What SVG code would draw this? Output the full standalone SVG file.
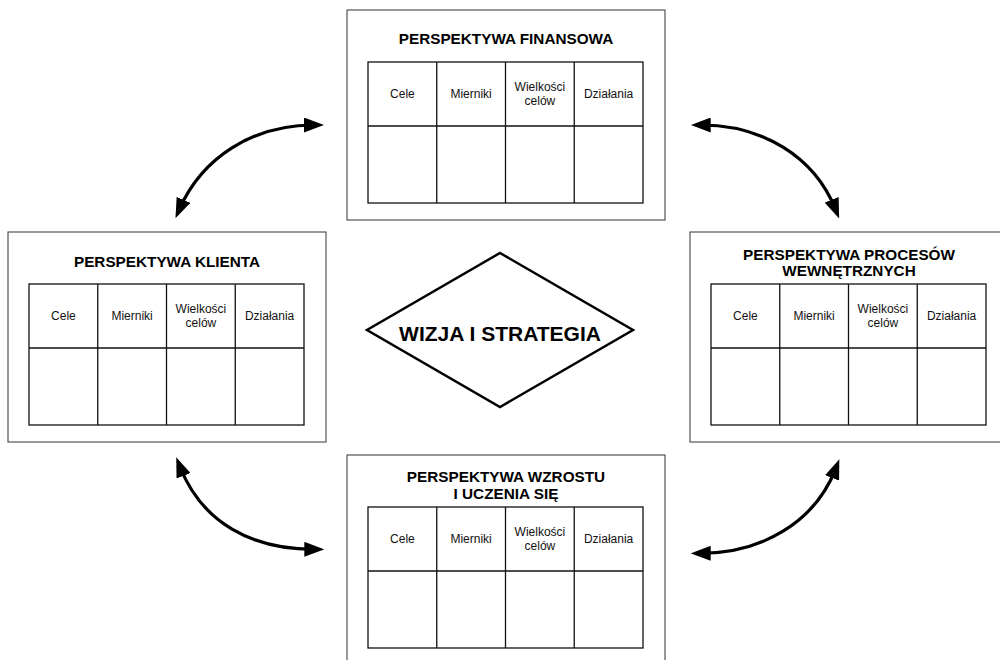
<svg xmlns="http://www.w3.org/2000/svg" width="1000" height="660" viewBox="0 0 1000 660">
  <defs>
    <style>
      .frame { fill: #fff; stroke: #444; stroke-width: 1.1; }
      .grid { fill: none; stroke: #111; stroke-width: 1.3; }
      .title { font-family: "Liberation Sans", Arial, sans-serif; font-weight: bold; font-size: 15.3px; fill: #000; text-anchor: middle; }
      .cell { font-family: "Liberation Sans", Arial, sans-serif; font-size: 12px; fill: #111; text-anchor: middle; }
      .core { font-family: "Liberation Sans", Arial, sans-serif; font-weight: bold; font-size: 21px; fill: #000; text-anchor: middle; }
      .link { fill: none; stroke: #000; stroke-width: 3.2; marker-start: url(#head); marker-end: url(#head); }
    </style>
    <marker id="head" markerUnits="userSpaceOnUse" markerWidth="20" markerHeight="15" refX="10" refY="7.5" orient="auto-start-reverse" viewBox="0 0 20 15">
      <path d="M0,0 L20,7.5 L0,15 z" fill="#000"/>
    </marker>
    <!-- measures table shared by all four perspectives -->
    <g id="table">
      <rect class="grid" x="21" y="52" width="275" height="141"/>
      <line class="grid" x1="21" y1="116" x2="296" y2="116"/>
      <line class="grid" x1="89.75" y1="52" x2="89.75" y2="193"/>
      <line class="grid" x1="158.5" y1="52" x2="158.5" y2="193"/>
      <line class="grid" x1="227.25" y1="52" x2="227.25" y2="193"/>
      <text class="cell" x="55.4" y="88">Cele</text>
      <text class="cell" x="124.1" y="88">Mierniki</text>
      <text class="cell" x="192.9" y="81">Wielkości</text>
      <text class="cell" x="192.9" y="95">celów</text>
      <text class="cell" x="261.6" y="88">Działania</text>
    </g>
  </defs>

  <!-- connectors -->
  <g id="connectors">
    <path class="link" d="M179.5,209 C202,158 252,125 314,125"/>
    <path class="link" d="M700.7,125 C762,125 814,156 835.4,209.1"/>
    <path class="link" d="M179.9,466.5 C202,523 252,549.3 314.3,549.3"/>
    <path class="link" d="M700.7,553.3 C762,553.3 815,522 835.7,468.6"/>
  </g>

  <g id="finansowa" transform="translate(347,10)">
    <rect class="frame" x="0" y="0" width="318" height="210"/>
    <text class="title" x="159" y="34">PERSPEKTYWA FINANSOWA</text>
    <use href="#table"/>
  </g>

  <g id="klienta" transform="translate(8,232)">
    <rect class="frame" x="0" y="0" width="318" height="210"/>
    <text class="title" x="159" y="35">PERSPEKTYWA KLIENTA</text>
    <use href="#table"/>
  </g>

  <g id="procesow" transform="translate(690,232)">
    <rect class="frame" x="0" y="0" width="318" height="210"/>
    <text class="title" x="159" y="27.5">PERSPEKTYWA PROCESÓW</text>
    <text class="title" x="159" y="44">WEWNĘTRZNYCH</text>
    <use href="#table"/>
  </g>

  <g id="wzrostu" transform="translate(347,455)">
    <rect class="frame" x="0" y="0" width="318" height="210"/>
    <text class="title" x="159" y="26.5">PERSPEKTYWA WZROSTU</text>
    <text class="title" x="159" y="43.5">I UCZENIA SIĘ</text>
    <use href="#table"/>
  </g>

  <g id="wizja">
    <polygon points="500,253 633,330 500,407 367,330" fill="#fff" stroke="#000" stroke-width="2.5" stroke-linejoin="miter"/>
    <text class="core" x="500" y="341">WIZJA I STRATEGIA</text>
  </g>
</svg>
